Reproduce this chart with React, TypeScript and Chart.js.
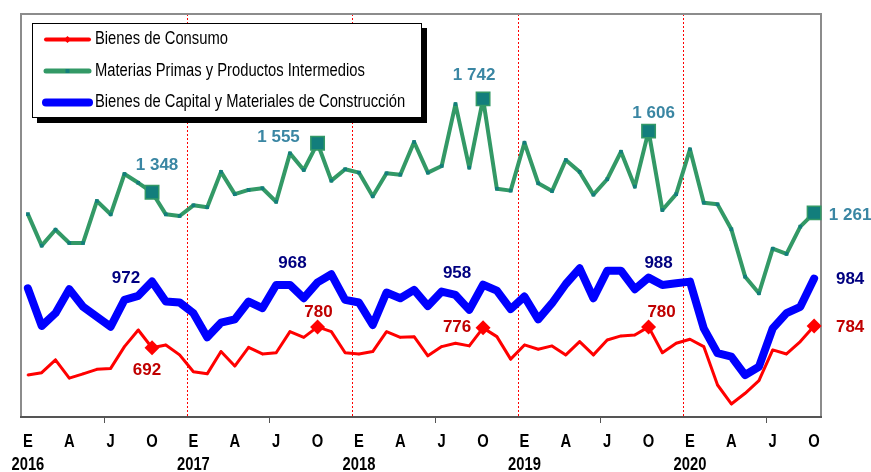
import React, { useEffect, useRef } from "react";
import { Chart, registerables } from "chart.js";

Chart.register(...registerables);

// ---------- data ----------
const years = ["2016", "2017", "2018", "2019", "2020"];
const monthInitials = ["E", "F", "M", "A", "M", "J", "J", "A", "S", "O", "N", "D"];
const monthsInLastYear = 10;

const categories: string[] = [];
years.forEach((y, yi) => {
  const n = yi === years.length - 1 ? monthsInLastYear : 12;
  for (let m = 0; m < n; m++) categories.push(`${monthInitials[m]} ${y}`);
});

// month positions that carry an axis label
const labeledMonths = [0, 3, 6, 9];

const seriesNames = [
  "Bienes de Consumo",
  "Materias Primas y Productos Intermedios",
  "Bienes de Capital y Materiales de Construcción",
];

const consumo = [
  577, 587, 641, 564, 582, 601, 605, 697, 767, 692, 704, 662,
  591, 582, 676, 615, 694, 666, 671, 760, 736, 780, 760, 671,
  666, 676, 760, 736, 739, 658, 697, 711, 700, 776, 739, 644,
  704, 686, 700, 662, 718, 662, 725, 742, 746, 780, 671, 711,
  728, 697, 535, 455, 500, 553, 683, 666, 718, 784,
];

const materias = [
  1256, 1123, 1190, 1134, 1134, 1311, 1255, 1425, 1388, 1348, 1255, 1248,
  1293, 1285, 1434, 1340, 1358, 1365, 1308, 1512, 1442, 1555, 1397, 1445,
  1431, 1331, 1428, 1422, 1560, 1431, 1459, 1720, 1452, 1742, 1363, 1355,
  1557, 1386, 1353, 1484, 1434, 1338, 1403, 1519, 1372, 1606, 1273, 1340,
  1529, 1304, 1297, 1192, 992, 922, 1110, 1088, 1203, 1261,
];

const capital = [
  943, 784, 838, 939, 865, 823, 781, 894, 911, 972, 887, 883,
  838, 736, 798, 812, 887, 859, 957, 957, 901, 968, 1002, 894,
  883, 788, 925, 901, 936, 868, 929, 915, 852, 958, 933, 855,
  908, 812, 880, 961, 1027, 901, 1017, 1017, 939, 988, 957, 964,
  971, 774, 669, 655, 577, 612, 774, 838, 865, 984,
];

// highlighted (October) points
const highlighted = [9, 21, 33, 45, 57];

// ---------- styles ----------
const RED = "#FF0000";
const GREEN = "#339966";
const TEAL = "#127E7C";
const BLUE = "#0000FF";
const LABEL_COLORS = ["#C00000", "#3A86A3", "#000080"];
const NARROW = 0.82; // horizontal squeeze to emulate a narrow face

// label offsets (dataset, point, dx, dy) relative to the point, centre of text
const labelOffsets: [number, number, number, number][] = [
  [1, 9, 5, -27], [1, 21, -39, -6], [1, 33, -9, -24], [1, 45, 5, -18], [1, 57, 36, 2],
  [2, 9, -26, -3], [2, 21, -25, -19], [2, 33, -26, -11], [2, 45, 10, -14], [2, 57, 36, 1],
  [0, 9, -5, 23], [0, 21, 1, -15], [0, 33, -26, -1], [0, 45, 13, -15], [0, 57, 36, 1],
];

const fmt = (v: number) =>
  v >= 1000 ? `${Math.floor(v / 1000)} ${String(v % 1000).padStart(3, "0")}` : String(v);

function narrowText(ctx: CanvasRenderingContext2D, text: string, x: number, y: number) {
  ctx.save();
  ctx.translate(x, y);
  ctx.scale(NARROW, 1);
  ctx.fillText(text, 0, 0);
  ctx.restore();
}

const framePlugin = {
  id: "frame",
  beforeDatasetsDraw(chart: any) {
    const { ctx, chartArea: a } = chart;
    const x = chart.scales.x;
    ctx.save();
    // year separators
    ctx.strokeStyle = RED;
    ctx.lineWidth = 1;
    ctx.setLineDash([2, 2]);
    for (let i = 12; i < categories.length; i += 12) {
      const px = Math.round((x.getPixelForValue(i - 1) + x.getPixelForValue(i)) / 2) + 0.5;
      ctx.beginPath();
      ctx.moveTo(px, a.top);
      ctx.lineTo(px, a.bottom);
      ctx.stroke();
    }
    ctx.setLineDash([]);
    // frame
    ctx.strokeStyle = "#8C8C8C";
    ctx.lineWidth = 2;
    ctx.beginPath();
    ctx.moveTo(a.left, a.bottom);
    ctx.lineTo(a.left, a.top);
    ctx.lineTo(a.right, a.top);
    ctx.lineTo(a.right, a.bottom);
    ctx.stroke();
    ctx.strokeStyle = "#555555";
    ctx.beginPath();
    ctx.moveTo(a.left - 1, a.bottom);
    ctx.lineTo(a.right + 1, a.bottom);
    ctx.stroke();
    // tick marks
    ctx.lineWidth = 1;
    for (let i = 6; i < categories.length; i += 12) {
      const px = Math.round((x.getPixelForValue(i - 1) + x.getPixelForValue(i)) / 2) + 0.5;
      ctx.beginPath();
      ctx.moveTo(px, a.bottom);
      ctx.lineTo(px, a.bottom + 6);
      ctx.stroke();
    }
    // axis labels (positions from the category scale)
    ctx.fillStyle = "#000";
    ctx.font = 'bold 18px "Liberation Sans", Arial, sans-serif';
    ctx.textAlign = "center";
    ctx.textBaseline = "middle";
    for (let i = 0; i < categories.length; i++) {
      const m = i % 12;
      if (!labeledMonths.includes(m)) continue;
      const px = x.getPixelForValue(i);
      narrowText(ctx, monthInitials[m], px, a.bottom + 25);
      if (m === 0) narrowText(ctx, years[Math.floor(i / 12)], px, a.bottom + 48);
    }
    ctx.restore();
  },
};

const labelPlugin = {
  id: "valueLabels",
  afterDatasetsDraw(chart: any) {
    const { ctx } = chart;
    ctx.save();
    ctx.font = 'bold 17px "Liberation Sans", Arial, sans-serif';
    ctx.textAlign = "center";
    ctx.textBaseline = "middle";
    for (const [di, pi, dx, dy] of labelOffsets) {
      const el = chart.getDatasetMeta(di).data[pi];
      const v = chart.data.datasets[di].data[pi] as number;
      ctx.fillStyle = LABEL_COLORS[di];
      ctx.fillText(fmt(v), el.x + dx, el.y + dy);
    }
    ctx.restore();
  },
};

const legendPlugin = {
  id: "boxLegend",
  afterDraw(chart: any) {
    const { ctx } = chart;
    const bx = 32, by = 23, bw = 390, bh = 95;
    ctx.save();
    ctx.fillStyle = "#000";
    ctx.fillRect(bx + 5, by + 5, bw, bh);
    ctx.fillStyle = "#fff";
    ctx.fillRect(bx, by, bw, bh);
    ctx.strokeStyle = "#000";
    ctx.lineWidth = 1;
    ctx.strokeRect(bx + 0.5, by + 0.5, bw - 1, bh - 1);
    const rows = [39.5, 71, 102.5];
    const widths = [4, 5, 8];
    chart.data.datasets.forEach((ds: any, i: number) => {
      const y = rows[i];
      ctx.strokeStyle = ds.borderColor;
      ctx.lineWidth = widths[i];
      ctx.lineCap = "round";
      ctx.beginPath();
      ctx.moveTo(46, y);
      ctx.lineTo(89, y);
      ctx.stroke();
      if (i === 0) {
        ctx.fillStyle = RED;
        ctx.beginPath();
        ctx.moveTo(67.5, y - 3.5);
        ctx.lineTo(71, y);
        ctx.lineTo(67.5, y + 3.5);
        ctx.lineTo(64, y);
        ctx.closePath();
        ctx.fill();
      } else if (i === 1) {
        ctx.fillStyle = TEAL;
        ctx.fillRect(65.5, y - 2, 4, 4);
      }
      ctx.fillStyle = "#000";
      ctx.font = '18px "Liberation Sans", Arial, sans-serif';
      ctx.textAlign = "left";
      ctx.textBaseline = "middle";
      narrowText(ctx, ds.label, 95, y);
    });
    ctx.restore();
  },
};

export default function App() {
  const ref = useRef<HTMLCanvasElement>(null);
  useEffect(() => {
    const canvas = ref.current!;
    const isHi = (c: any) => highlighted.includes(c.dataIndex);
    const chart = new Chart(canvas, {
      type: "line",
      data: {
        labels: categories,
        datasets: [
          {
            label: seriesNames[0],
            data: consumo,
            borderColor: RED,
            backgroundColor: RED,
            borderWidth: 3,
            tension: 0,
            borderJoinStyle: "round",
            pointStyle: "rectRot",
            pointRadius: (c: any) => (isHi(c) ? 7.5 : 1.5),
            pointBackgroundColor: RED,
            pointBorderColor: RED,
            pointBorderWidth: 0,
          },
          {
            label: seriesNames[1],
            data: materias,
            borderColor: GREEN,
            backgroundColor: GREEN,
            borderWidth: 4,
            tension: 0,
            borderJoinStyle: "round",
            pointStyle: "rect",
            pointRadius: (c: any) => (isHi(c) ? 9.5 : 2.6),
            pointBackgroundColor: TEAL,
            pointBorderColor: GREEN,
            pointBorderWidth: (c: any) => (isHi(c) ? 1.5 : 0),
          },
          {
            label: seriesNames[2],
            data: capital,
            borderColor: BLUE,
            backgroundColor: BLUE,
            borderWidth: 8,
            tension: 0,
            borderJoinStyle: "round",
            borderCapStyle: "round",
            pointRadius: 0,
          },
        ],
      },
      options: {
        responsive: false,
        animation: false,
        events: [],
        layout: { padding: { left: 21, top: 14, right: 50, bottom: 0 }, autoPadding: false },
        plugins: { legend: { display: false }, tooltip: { enabled: false } },
        scales: {
          x: {
            offset: true,
            grid: { display: false, drawTicks: false },
            border: { display: false },
            ticks: { display: false, autoSkip: false },
            afterFit: (s: any) => {
              s.height = 55;
              s.paddingLeft = 0;
              s.paddingRight = 0;
            },
          },
          y: { display: false, min: 400, max: 2100 },
        },
      },
      plugins: [framePlugin, labelPlugin, legendPlugin],
    } as any);
    return () => chart.destroy();
  }, []);
  return (
    <div style={{ position: "fixed", left: 0, top: 0, width: 871, height: 472, background: "#fff" }}>
      <canvas ref={ref} width={871} height={472} style={{ display: "block" }} />
    </div>
  );
}
